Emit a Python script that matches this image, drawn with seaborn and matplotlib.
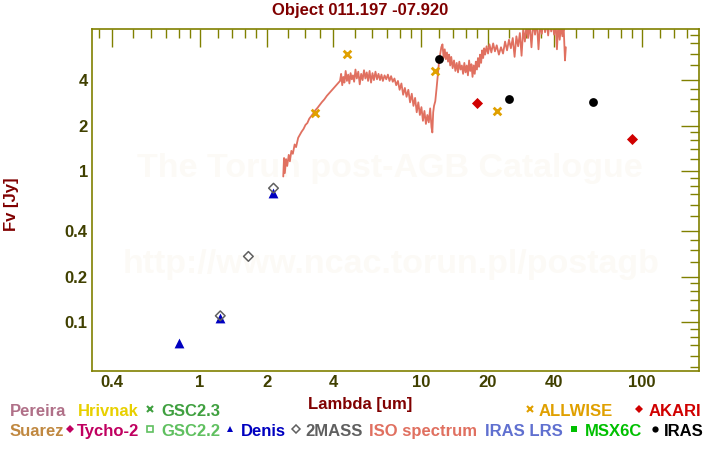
import matplotlib
matplotlib.use('Agg')
import matplotlib.pyplot as plt
import matplotlib.ticker as mticker
from matplotlib.lines import Line2D
import seaborn as sns

# photometry (um, Jy)
denis_wl = [0.80, 1.23, 2.15]
denis_f = [0.073, 0.107, 0.712]
tmass_wl = [1.235, 1.655, 2.15]
tmass_f = [0.110, 0.272, 0.770]
allwise_wl = [3.33, 4.6, 11.6, 22.1]
allwise_f = [2.41, 6.0, 4.57, 2.49]
iras_wl = [12.0, 25.1, 60.2]
iras_f = [5.49, 2.98, 2.85]
akari_wl = [18.0, 90.4]
akari_f = [2.81, 1.62]

# ISO spectrum
iso_wl = [2.38, 2.40, 2.42, 2.45, 2.48, 2.52, 2.55, 2.59, 2.63, 2.68, 2.72, 2.78,
          2.83, 2.88, 2.94, 3.00, 3.06, 3.12, 3.18, 3.25, 3.32, 3.40, 3.48, 3.56,
          3.65, 3.75, 3.86, 3.97, 4.08, 4.20, 4.30,
          4.35, 4.40, 4.45, 4.50, 4.56, 4.62, 4.68, 4.74, 4.80, 4.86, 4.92, 4.98,
          5.05, 5.12, 5.20, 5.28, 5.36, 5.44, 5.52, 5.60, 5.68, 5.76, 5.85, 5.94,
          6.03, 6.12, 6.22, 6.32, 6.42, 6.52, 6.62, 6.72, 6.84, 6.96, 7.08, 7.20,
          7.32, 7.45,
          7.58, 7.72, 7.86, 8.00, 8.15, 8.30, 8.45, 8.60, 8.76, 8.92, 9.08, 9.24,
          9.40, 9.56, 9.72, 9.88, 10.04, 10.20, 10.36, 10.52, 10.68, 10.84, 11.00,
          11.15, 11.25, 11.35, 11.45,
          11.6, 11.75, 11.9, 12.05, 12.2, 12.35, 12.5,
          12.65, 12.80, 12.95, 13.10, 13.25, 13.40, 13.55, 13.70, 13.90, 14.10,
          14.30, 14.50, 14.70, 14.90, 15.10, 15.30, 15.50, 15.70, 15.90, 16.10,
          16.30, 16.50, 16.70, 16.90, 17.10, 17.30, 17.50, 17.70, 17.90, 18.10,
          18.30, 18.50, 18.70, 18.90, 19.10, 19.30, 19.50, 19.80, 20.10,
          20.4, 20.8, 21.2, 21.6, 22.0, 22.5, 23.0, 23.5, 24.0, 24.5, 25.0, 25.5,
          26.0, 26.5, 27.0, 27.5, 28.0, 28.5, 29.0, 29.5, 30.0, 30.5, 31.0, 31.6,
          32.2, 32.8, 33.4, 34.0, 34.6, 35.2, 35.8, 36.4, 37.0, 37.6, 38.2, 38.8,
          39.4, 40.0, 40.6, 41.2, 41.8, 42.4, 43.0, 43.6, 44.2, 44.8, 45.2]
iso_f = [0.92, 1.22, 0.97, 1.20, 1.08, 1.28, 1.16, 1.36, 1.30, 1.50, 1.44, 1.66,
         1.74, 1.82, 1.90, 2.02, 2.08, 2.22, 2.30, 2.40, 2.52, 2.62, 2.74, 2.86,
         2.98, 3.15, 3.30, 3.46, 3.62, 3.80, 3.95,
         4.40, 3.70, 4.20, 3.85, 4.60, 3.95, 4.35, 3.80, 4.45, 4.05, 4.30, 3.90,
         4.70, 4.10, 4.55, 3.75, 4.40, 4.00, 4.65, 4.10, 4.50, 3.95, 4.60, 3.85,
         4.45, 4.00, 4.55, 4.05, 4.40, 4.00, 4.35, 3.95, 4.30, 4.05, 4.35, 3.95,
         4.25, 3.90,
         4.10, 3.70, 3.95, 3.45, 3.80, 3.20, 3.55, 3.10, 3.45, 2.85, 3.25, 2.70,
         3.05, 2.45, 2.85, 2.35, 2.65, 2.15, 2.50, 2.05, 2.35, 2.10, 2.60,
         1.95, 1.80, 2.45, 2.70,
         2.9, 3.5, 4.3, 5.2, 5.9, 6.6, 6.9,
         5.6, 6.4, 5.5, 6.1, 5.3, 5.9, 5.0, 5.7, 4.8, 5.4,
         4.6, 5.2, 4.5, 5.3, 4.7, 5.0, 4.4, 5.2, 4.5, 5.0,
         4.3, 5.4, 4.6, 5.1, 4.2, 5.0, 4.4, 5.3, 4.7, 5.6,
         4.9, 5.9, 5.2, 6.3, 5.6, 6.5, 5.9, 6.7, 6.0,
         6.9, 6.1, 7.0, 6.2, 6.8, 5.9, 6.6, 6.0, 7.2, 6.3, 7.4, 6.5,
         7.6, 5.7, 7.8, 6.7, 8.2, 5.8, 8.8, 7.2, 9.2, 7.6, 9.5, 6.6,
         9.8, 8.0, 10.0, 6.4, 9.6, 8.1, 10.2, 8.3, 9.8, 7.9, 10.1, 8.4,
         9.7, 8.0, 10.0, 6.4, 9.5, 7.4, 9.2, 7.8, 8.9, 5.4, 6.6]

x_major = [0.4, 1, 2, 4, 10, 20, 40, 100]
x_minor = [0.35, 0.5, 0.6, 0.7, 0.8, 0.9, 1.2, 1.4, 1.6, 1.8, 2.5, 3, 3.5,
           5, 6, 7, 8, 9, 12, 14, 16, 18, 25, 30, 35, 50, 60, 70, 80, 90,
           120, 140, 160]
y_major = [0.1, 0.2, 0.4, 1, 2, 4]
y_minor = [0.05, 0.06, 0.07, 0.08, 0.09, 0.12, 0.14, 0.16, 0.18, 0.25, 0.3,
           0.35, 0.5, 0.6, 0.7, 0.8, 0.9, 1.2, 1.4, 1.6, 1.8, 2.5, 3, 3.5,
           5, 6, 7, 8]

sns.set_style('white')
plt.rcParams['font.family'] = ['Liberation Sans', 'DejaVu Sans']
plt.rcParams['font.weight'] = 'bold'

olive = '#808000'
darkred = '#800000'

fig = plt.figure(figsize=(7.2, 4.5), dpi=100)
ax = fig.add_axes([92 / 720, 79 / 450, 607 / 720, 342 / 450])

# watermark
ax.text(0.490, 1 - (177 - 29) / 342, 'The Torun post-AGB Catalogue', transform=ax.transAxes,
        ha='center', va='baseline', fontsize=24.5, color='#fcfaf6', zorder=0)
ax.text(0.493, 1 - (273 - 29) / 342, 'http://www.ncac.torun.pl/postagb', transform=ax.transAxes,
        ha='center', va='baseline', fontsize=24.5, color='#fcfaf6', zorder=0)

sns.lineplot(x=iso_wl, y=iso_f, ax=ax, sort=False, estimator=None,
             color='#e07060', lw=1.3, zorder=2)
sns.scatterplot(x=denis_wl, y=denis_f, ax=ax, marker='^', s=50, color='#0000c0',
                linewidth=0, zorder=3)
sns.scatterplot(x=tmass_wl, y=tmass_f, ax=ax, marker='D', s=24, facecolors='none',
                edgecolor='#606060', linewidth=1.1, zorder=4)
sns.scatterplot(x=allwise_wl, y=allwise_f, ax=ax, marker='x', s=30, color='#e0a000',
                linewidth=2, zorder=4)
sns.scatterplot(x=iras_wl, y=iras_f, ax=ax, marker='o', s=40, color='black',
                linewidth=0, zorder=5)
sns.scatterplot(x=akari_wl, y=akari_f, ax=ax, marker='D', s=32, color='#d00000',
                linewidth=0, zorder=5)

ax.set_xscale('log')
ax.set_yscale('log')
ax.set_xlim(0.3245, 181)
ax.set_ylim(0.0474, 8.72)

ax.xaxis.set_major_locator(mticker.FixedLocator(x_major))
ax.xaxis.set_minor_locator(mticker.FixedLocator(x_minor))
ax.xaxis.set_major_formatter(mticker.FuncFormatter(lambda v, p: '%g' % v))
ax.xaxis.set_minor_formatter(mticker.NullFormatter())
ax.yaxis.set_major_locator(mticker.FixedLocator(y_major))
ax.yaxis.set_minor_locator(mticker.FixedLocator(y_minor))
ax.yaxis.set_major_formatter(mticker.FuncFormatter(lambda v, p: '%g' % v))
ax.yaxis.set_minor_formatter(mticker.NullFormatter())

ax.tick_params(which='both', direction='in', top=True, right=True, color=olive,
               width=1.0, labelcolor='#404000', labelsize=12, pad=3)
ax.tick_params(which='major', length=13)
ax.tick_params(which='minor', length=6.5)
for t in ax.get_xticklabels() + ax.get_yticklabels():
    t.set_fontweight('bold')
for sp in ax.spines.values():
    sp.set_color(olive)
    sp.set_linewidth(1.2)
ax.set_xlabel('')
ax.set_ylabel('Fv [Jy]', color=darkred, fontsize=12, fontweight='bold')
ax.yaxis.set_label_coords((19 - 92) / 607, (371 - 204) / 342)

fig.text(0.5, 1 - 11 / 450, 'Object 011.197 -07.920', ha='center', va='center',
         fontsize=12, fontweight='bold', color=darkred)
fig.text(360 / 720, 1 - 404 / 450, 'Lambda [um]', ha='center', va='center',
         fontsize=12, fontweight='bold', color=darkred)

# catalogue key below the axes
legend_labels = [
    ('Pereira', '#b07088', 10, 410, None),
    ('Hrivnak', '#e8d000', 78, 410, None),
    ('GSC2.3', '#40a040', 161, 410, ('x', 150)),
    ('ALLWISE', '#e0a000', 539, 410, ('x', 530)),
    ('AKARI', '#d00000', 649, 410, ('D', 639)),
    ('Suarez', '#c08840', 10, 430, None),
    ('Tycho-2', '#c00060', 77, 430, ('D', 70)),
    ('GSC2.2', '#60c060', 161, 430, ('s', 150)),
    ('Denis', '#0000c0', 241, 430, ('^', 230)),
    ('2MASS', '#606060', 305, 430, ('d', 296)),
    ('ISO spectrum', '#e07060', 369, 430, None),
    ('IRAS LRS', '#6070d0', 485, 430, None),
    ('MSX6C', '#00c000', 585, 430, ('S', 574)),
    ('IRAS', 'black', 664, 430, ('o', 655)),
]
for label, col, px, py, mk in legend_labels:
    fig.text(px / 720, 1 - py / 450, label, ha='left', va='center_baseline',
             fontsize=12, fontweight='bold', color=col)
    if mk is not None:
        m, mx = mk
        kw = dict(marker=m, color=col, ms=4.5, mew=0, linestyle='none')
        if m == 'x':
            kw.update(ms=4, mew=1.5)
        elif m == 's':
            kw.update(mfc='none', mec=col, mew=1.2, ms=4)
        elif m == 'd':
            kw.update(marker='D', mfc='none', mec=col, mew=1.1, ms=4)
        elif m == 'S':
            kw.update(marker='s', ms=5)
        fig.add_artist(Line2D([mx / 720], [1 - (py - 1) / 450], transform=fig.transFigure, **kw))

fig.savefig('out.png', dpi=100, facecolor='white')
